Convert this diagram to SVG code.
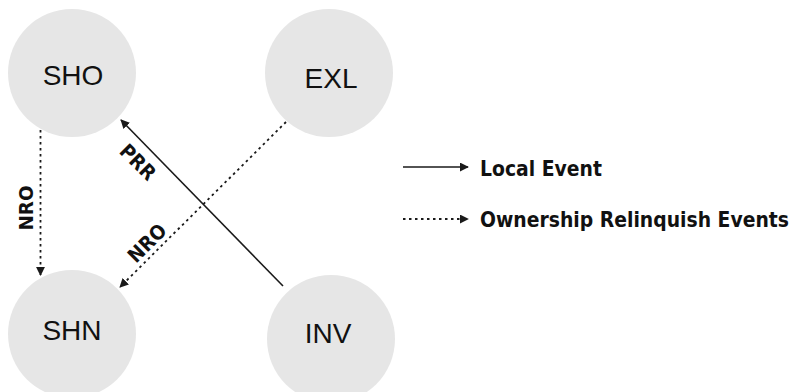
<svg xmlns="http://www.w3.org/2000/svg" width="797" height="392" viewBox="0 0 797 392">
  <style>
    .node { fill: #e6e6e6; }
    .name { font-family: "Liberation Sans", Arial, sans-serif; font-size: 28px; fill: #111; text-anchor: middle; }
    .lbl { font-family: "DejaVu Sans", Verdana, sans-serif; font-weight: bold; font-size: 20px; fill: #111; text-anchor: middle; }
    .key { font-family: "DejaVu Sans", Verdana, sans-serif; font-weight: bold; font-size: 18.8px; fill: #111; }
    .solid { stroke: #1a1a1a; stroke-width: 1.6; fill: none; }
    .dotted { stroke: #1a1a1a; stroke-width: 1.8; fill: none; stroke-dasharray: 2.5 3.5; }
  </style>
  <defs>
    <marker id="head" viewBox="0 0 10 10" refX="9" refY="5" markerWidth="9" markerHeight="9" markerUnits="userSpaceOnUse" orient="auto">
      <path d="M0,0 L10,5 L0,10 Z" fill="#1a1a1a"/>
    </marker>
  </defs>
  <rect width="797" height="392" fill="#ffffff"/>

  <g id="SHO">
    <circle class="node" cx="72" cy="73" r="64"/>
    <text class="name" x="73" y="85">SHO</text>
  </g>
  <g id="EXL">
    <circle class="node" cx="329" cy="73" r="64"/>
    <text class="name" x="331" y="88">EXL</text>
  </g>
  <g id="SHN">
    <circle class="node" cx="72" cy="334" r="64"/>
    <text class="name" x="72" y="340">SHN</text>
  </g>
  <g id="INV">
    <circle class="node" cx="331" cy="339" r="64"/>
    <text class="name" x="328" y="343">INV</text>
  </g>

  <g id="connectors">
    <line class="dotted" x1="40.5" y1="130" x2="40.5" y2="275" marker-end="url(#head)"/>
    <line class="solid" x1="283" y1="286" x2="121" y2="120" marker-end="url(#head)"/>
    <line class="dotted" x1="286" y1="122" x2="120" y2="287" marker-end="url(#head)"/>
    <text class="lbl" transform="translate(33,208) rotate(-90)" textLength="45" lengthAdjust="spacingAndGlyphs">NRO</text>
    <text class="lbl" transform="translate(133,167) rotate(45)" textLength="42" lengthAdjust="spacingAndGlyphs">PRR</text>
    <text class="lbl" transform="translate(152,248) rotate(-45)" textLength="45" lengthAdjust="spacingAndGlyphs">NRO</text>
  </g>

  <g id="legend">
    <line class="solid" x1="403" y1="167" x2="468" y2="167" marker-end="url(#head)"/>
    <!-- legend captions: slightly tall letterforms, so scale vertically -->
    <text class="key" transform="translate(480,176) scale(1,1.15)">Local Event</text>
    <line class="dotted" x1="403" y1="219" x2="468" y2="219" marker-end="url(#head)"/>
    <text class="key" transform="translate(480,227) scale(1,1.15)">Ownership Relinquish Events</text>
  </g>
</svg>
